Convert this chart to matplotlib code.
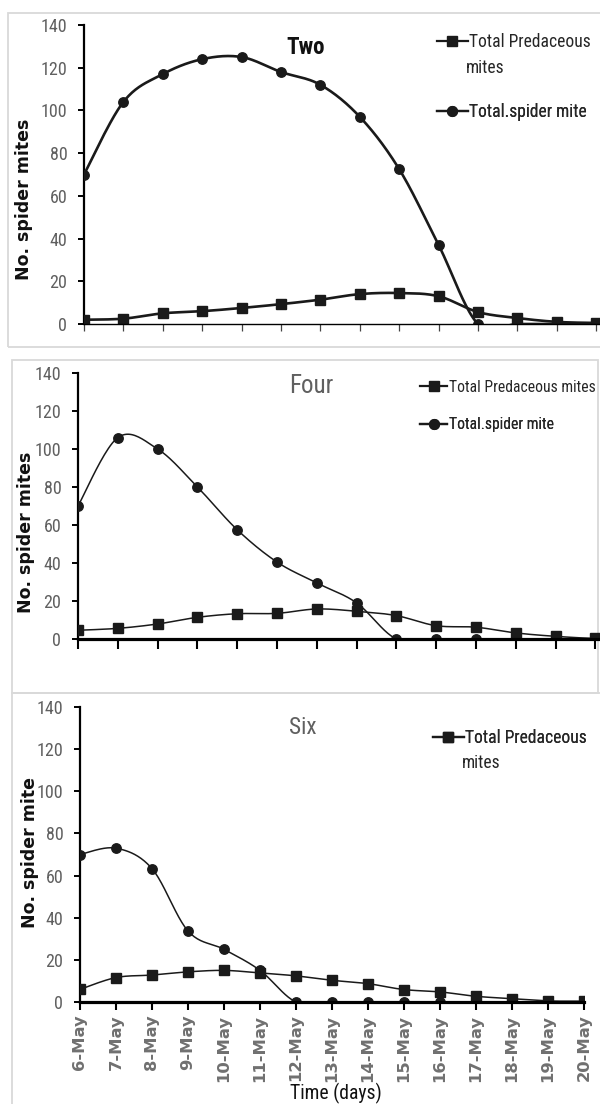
import numpy as np
import matplotlib
matplotlib.use("Agg")
import matplotlib.pyplot as plt
import matplotlib.font_manager as fm
from matplotlib.font_manager import FontProperties
from matplotlib.patches import Rectangle
from matplotlib.lines import Line2D

# ---------------- data ----------------
dates = ["6-May", "7-May", "8-May", "9-May", "10-May", "11-May", "12-May", "13-May",
         "14-May", "15-May", "16-May", "17-May", "18-May", "19-May", "20-May"]

two_predaceous = [2, 2.5, 5, 6, 7.5, 9.3, 11.4, 14, 14.5, 13, 5.6, 2.8, 1, 0.5, 0.3]
two_spider = [70, 104, 117, 124, 125, 118, 112, 97, 72.5, 37, 0, 0, 0, 0, 0]

four_predaceous = [4.6, 5.6, 7.9, 11.4, 13.3, 13.5, 15.8, 14.6, 12.3, 7, 6.2, 3.2, 1.4, 0.3, 0.2]
four_spider = [70, 106, 100, 80, 57.5, 40.5, 29.5, 19, 0, 0, 0, 0, 0, 0, 0]

six_predaceous = [6, 11.6, 12.8, 14.3, 15, 13.8, 12.4, 10.3, 8.7, 5.9, 4.8, 2.7, 1.6, 0.5, 0.4]
six_spider = [70, 73, 63.3, 33.7, 25, 15, 0, 0, 0, 0, 0, 0, 0, 0, 0]

yticks = [0, 20, 40, 60, 80, 100, 120, 140]

W, H = 600, 1104
GRAY = "#606060"
DARK = "#1a1a1a"

# ---------- pick a narrow (condensed) font if one is installed ----------
ents = fm.fontManager.ttflist
names = {e.name for e in ents}
narrow = None
for pref in ["Liberation Sans Narrow", "Arial Narrow", "Roboto Condensed",
             "DejaVu Sans Condensed", "Noto Sans Condensed", "Open Sans Condensed"]:
    if pref in names:
        narrow = dict(family=pref)
        break
if narrow is None:
    for e in ents:
        if "Condensed" in e.name or "Narrow" in e.name:
            narrow = dict(family=e.name)
            break
if narrow is None:
    for e in ents:
        if str(e.stretch) in ("condensed", "semi-condensed", "extra-condensed") and "Mono" not in e.name:
            narrow = dict(family=e.name, stretch=str(e.stretch))
            break
if narrow is None:
    narrow = dict(family="Roboto")

fig = plt.figure(figsize=(W / 100, H / 100), dpi=100)
fig.patch.set_facecolor("white")
renderer = fig.canvas.get_renderer()


def nprop(size, weight="normal"):
    return FontProperties(size=size, weight=weight, **narrow)


def fit_size(s, target_px, weight="normal", base=12.0):
    t = fig.text(0, 0, s, fontproperties=nprop(base, weight))
    w = t.get_window_extent(renderer).width
    t.remove()
    return base * target_px / w


def smooth(xv, yv, n=24):
    """Excel-like smoothed line (Catmull-Rom Bezier) through the data points."""
    P = np.column_stack([xv, yv]).astype(float)
    out = [P[0]]
    t = np.linspace(0, 1, n)[1:]
    for i in range(len(P) - 1):
        p0 = P[i - 1] if i > 0 else P[i]
        p1, p2 = P[i], P[i + 1]
        p3 = P[i + 2] if i + 2 < len(P) else P[i + 1]
        c1 = p1 + (p2 - p0) / 6.0
        c2 = p2 - (p3 - p1) / 6.0
        for tt in t:
            b = ((1 - tt) ** 3) * p1 + 3 * ((1 - tt) ** 2) * tt * c1 \
                + 3 * (1 - tt) * tt ** 2 * c2 + tt ** 3 * p2
            out.append(b)
    out = np.array(out)
    return out[:, 0], out[:, 1]


def fx(px):
    return px / W


def fy(py):
    return 1 - py / H


tick_size = fit_size("140", 22) * 1.2
leg_size = fit_size("Total Predaceous", 108) * 1.12
leg_size2 = fit_size("Total Predaceous mites", 146)

# panel frames
for (x0, y0, x1, y1) in [(8, 13, 612, 347), (12, 360, 598, 693), (12, 693, 612, 1112)]:
    fig.add_artist(Rectangle((fx(x0), fy(y1)), (x1 - x0) / W, (y1 - y0) / H,
                             transform=fig.transFigure, fill=False,
                             edgecolor="#d9d9d9", lw=1.3, zorder=0))

panels = [
    dict(pred=two_predaceous, spid=two_spider, left=84, top=25, bottom=324, step=39.4,
         title="Two", tweight="bold", tcolor="#111111", twidth=32, tpos=(306, 48),
         lw=1.9, xlw=1.0, ylabel="No. spider mites", ylpos=(24, 199),
         leg=[("Total Predaceous", "s", 437, 42), ("Total.spider mite", "o", 437, 112)],
         extra=("mites", 466, 68), lsize=leg_size, labels=False),
    dict(pred=four_predaceous, spid=four_spider, left=78, top=373, bottom=639, step=39.8,
         title="Four", tweight="normal", tcolor=GRAY, twidth=37, tpos=(311, 386),
         lw=1.1, xlw=2.3, ylabel="No. spider mites", ylpos=(26, 532),
         leg=[("Total Predaceous mites", "s", 420, 387), ("Total.spider mite", "o", 420, 425)],
         extra=None, lsize=leg_size2, labels=False),
    dict(pred=six_predaceous, spid=six_spider, left=80, top=707, bottom=1002, step=36.0,
         title="Six", tweight="normal", tcolor=GRAY, twidth=23, tpos=(303, 727),
         lw=1.1, xlw=2.3, ylabel="No. spider mite", ylpos=(30, 853),
         leg=[("Total Predaceous", "s", 433, 738)],
         extra=("mites", 462, 763), lsize=leg_size, labels=True),
]

x = np.arange(len(dates))

for p in panels:
    right = 600 if not p["labels"] else p["left"] + 14 * p["step"]
    ax = fig.add_axes([fx(p["left"]), fy(p["bottom"]), (right - p["left"]) / W,
                       (p["bottom"] - p["top"]) / H])
    xmax = (right - p["left"]) / p["step"]
    ax.set_xlim(0, xmax)
    ax.set_ylim(0, 140)
    ax.patch.set_alpha(0)

    sx, sy = smooth(x, p["pred"])
    ax.plot(sx, sy, color=DARK, lw=p["lw"], zorder=3)
    ax.plot(x, p["pred"], ls="none", marker="s", ms=7, color=DARK, zorder=4)
    sx, sy = smooth(x, p["spid"])
    ax.plot(sx, sy, color=DARK, lw=p["lw"], zorder=3)
    ax.plot(x, p["spid"], ls="none", marker="o", ms=6.8, color=DARK, zorder=4)

    for s in ["top", "right"]:
        ax.spines[s].set_visible(False)
    ax.spines["left"].set_linewidth(1.6)
    ax.spines["left"].set_color("black")
    ax.spines["bottom"].set_linewidth(p["xlw"])
    ax.spines["bottom"].set_color("black")
    ax.spines["bottom"].set_zorder(5)

    ax.set_yticks(yticks)
    ax.set_yticklabels([str(v) for v in yticks], fontproperties=nprop(tick_size), color=GRAY)
    ax.tick_params(axis="y", direction="out", length=4, width=1.4, color="black", pad=8)

    ax.set_xticks(x[x <= xmax + 0.01])
    if p["labels"]:
        ax.set_xticklabels(dates, rotation=90, fontsize=11.8, fontweight="bold",
                           color="#707070", family="DejaVu Sans")
        ax.tick_params(axis="x", direction="out", length=6, width=1.5, color="black", pad=3)
    else:
        ax.set_xticklabels([])
        if p["xlw"] < 2:
            ax.tick_params(axis="x", direction="out", length=5, width=0.9, color="#444444")
        else:
            ax.tick_params(axis="x", direction="out", length=7, width=1.5, color="black")

    tsize = fit_size(p["title"], p["twidth"], p["tweight"]) * 1.2
    fig.text(fx(p["tpos"][0]), fy(p["tpos"][1]), p["title"], ha="center", va="center",
             fontproperties=nprop(tsize, p["tweight"]), color=p["tcolor"])
    fig.text(fx(p["ylpos"][0]), fy(p["ylpos"][1]), p["ylabel"], rotation=90,
             ha="center", va="center", family="DejaVu Sans", fontweight="bold",
             fontsize=12.5, color="#111111")

    # legend entries (one small legend per entry, so each sits where the reference has it)
    for lab, mk, lx, ly in p["leg"]:
        h = Line2D([], [], color=DARK, lw=1.6, marker=mk, ms=7)
        leg = ax.legend(handles=[h], labels=[lab], loc="center left",
                        bbox_to_anchor=(fx(lx), fy(ly)), bbox_transform=fig.transFigure,
                        frameon=False, prop=nprop(p["lsize"]), labelcolor="#262626",
                        handlelength=1.75, handletextpad=0.1, borderpad=0, borderaxespad=0)
        ax.add_artist(leg)
    if p["extra"]:
        s, ex, ey = p["extra"]
        fig.text(fx(ex), fy(ey), s, ha="left", va="center",
                 fontproperties=nprop(p["lsize"]), color="#262626")

    if p["labels"]:
        ts = fit_size("Time (days)", 73) * 1.25
        fig.text(fx(336), fy(1093), "Time (days)", ha="center", va="center",
                 fontproperties=nprop(ts), color="#111111")

fig.savefig("out.png", dpi=100)
